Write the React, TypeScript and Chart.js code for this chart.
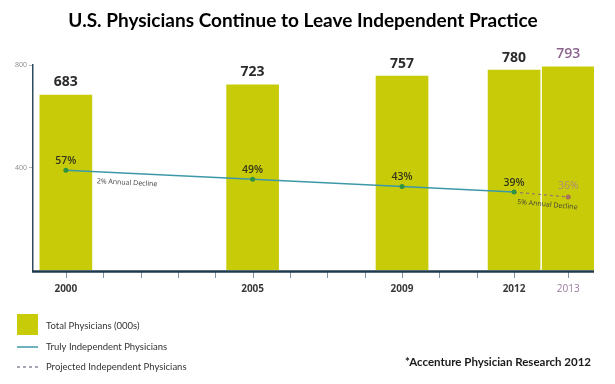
import React, { useEffect, useRef } from "react";
import { Chart, LinearScale, registerables } from "chart.js";

// ---------- data ----------
const barYears = [2000, 2005, 2009, 2012, 2013];
const totalPhysicians = [683, 723, 757, 780, 793];
const independentYears = [2000, 2005, 2009, 2012];
const independentPhysicians = [389, 354, 326, 304];
const independentShare = ["57%", "49%", "43%", "39%"];
const projectedYears = [2012, 2013];
const projectedPhysicians = [304, 285];
const projectedShare = ["", "36%"];
const axisYears = [2000, 2001, 2002, 2003, 2004, 2005, 2006, 2007, 2008, 2009, 2010, 2011, 2012, 2013];
const labeledYears = [2000, 2005, 2009, 2012, 2013];
const yTickValues = [400, 800];
const declineNotes = ["2% Annual Decline", "5% Annual Decline"];
const lastActualYear = 2012;
const seriesLabels = ["Total Physicians (000s)", "Truly Independent Physicians", "Projected Independent Physicians"];
const TITLE = "U.S. Physicians Continue to Leave Independent Practice";
const SOURCE = "*Accenture Physician Research 2012";

// ---------- styles ----------
const BAR_COLOR = "#c8cc08";
const LINE_COLOR = "#3c98a8";
const POINT_COLOR = "#2e9444";
const PROJ_LINE_COLOR = "#8d7a6e";
const PROJ_POINT_COLOR = "#a5705c";
const PROJ_TEXT = "#9a7a9c";
const AXIS_COLOR = "#1f3a4d";
const TICK_MARK_COLOR = "#8494a3";
const GAP_STRETCH = 1.45; // the projected year sits right next to the last actual bar

class ProjectionYearScale extends LinearScale {
  static id = "projectionYear";
  static defaults = LinearScale.defaults;
  warp(v: number) {
    return v > lastActualYear ? lastActualYear + (v - lastActualYear) * GAP_STRETCH : v;
  }
  getPixelForValue(value: number) {
    return super.getPixelForValue(this.warp(value));
  }
  getValueForPixel(pixel: number) {
    const w = super.getValueForPixel(pixel) as number;
    return w > lastActualYear ? lastActualYear + (w - lastActualYear) / GAP_STRETCH : w;
  }
}

Chart.register(...registerables, ProjectionYearScale);

const decor = {
  id: "decor",
  afterDatasetsDraw(chart: any) {
    const { ctx, chartArea } = chart;
    const xs = chart.scales.x;
    ctx.save();
    // year tick marks
    ctx.strokeStyle = TICK_MARK_COLOR;
    ctx.lineWidth = 1;
    xs.ticks.forEach((t: any) => {
      const px = Math.round(xs.getPixelForValue(t.value)) + 0.5;
      ctx.beginPath();
      ctx.moveTo(px, chartArea.bottom + 2);
      ctx.lineTo(px, chartArea.bottom + 8);
      ctx.stroke();
    });
    // x axis line over bar bottoms
    ctx.strokeStyle = AXIS_COLOR;
    ctx.lineWidth = 2.5;
    ctx.beginPath();
    ctx.moveTo(chartArea.left - 1, chartArea.bottom + 1.5);
    ctx.lineTo(chartArea.right, chartArea.bottom + 1.5);
    ctx.stroke();

    // bar value labels
    const barMeta = chart.getDatasetMeta(0);
    ctx.textAlign = "center";
    ctx.textBaseline = "middle";
    barMeta.data.forEach((el: any, i: number) => {
      const proj = barYears[i] > lastActualYear;
      ctx.font = `${proj ? 600 : 700} 14px "Open Sans"`;
      ctx.fillStyle = proj ? "#8c638e" : "#2b2b2b";
      ctx.fillText(String(totalPhysicians[i]), el.x, el.y - 12.5);
    });

    // percentage labels
    const lineMeta = chart.getDatasetMeta(1);
    ctx.font = `600 10.5px "Open Sans"`;
    ctx.fillStyle = "#34361a";
    lineMeta.data.forEach((el: any, i: number) => {
      ctx.fillText(independentShare[i], el.x, el.y - 9.5);
    });
    const projMeta = chart.getDatasetMeta(2);
    ctx.font = `400 10.5px "Open Sans"`;
    ctx.fillStyle = "#b08a78";
    projMeta.data.forEach((el: any, i: number) => {
      if (projectedShare[i]) ctx.fillText(projectedShare[i], el.x, el.y - 11);
    });

    // decline notes along the segments
    const note = (a: any, b: any, frac: number, text: string) => {
      const ang = Math.atan2(b.y - a.y, b.x - a.x);
      const cx = a.x + (b.x - a.x) * frac;
      const cy = a.y + (b.y - a.y) * frac;
      ctx.save();
      ctx.translate(cx, cy);
      ctx.rotate(ang);
      ctx.font = `400 7px "Open Sans"`;
      ctx.fillStyle = "#3d3d3d";
      ctx.fillText(text, 0, 9.5);
      ctx.restore();
    };
    note(lineMeta.data[0], lineMeta.data[1], 0.33, declineNotes[0]);
    note(projMeta.data[0], projMeta.data[1], 0.63, declineNotes[1]);
    ctx.restore();
  },
  afterDraw(chart: any) {
    const { ctx } = chart;
    ctx.save();
    // title
    ctx.textAlign = "center";
    ctx.textBaseline = "middle";
    ctx.fillStyle = "#000";
    ctx.font = `700 19px Lato`;
    ctx.fillText(TITLE, 303, 21);

    // legend
    ctx.textAlign = "left";
    ctx.fillStyle = BAR_COLOR;
    ctx.fillRect(17, 314, 21, 21);
    ctx.strokeStyle = LINE_COLOR;
    ctx.lineWidth = 1.5;
    ctx.beginPath();
    ctx.moveTo(17, 347);
    ctx.lineTo(38, 347);
    ctx.stroke();
    ctx.strokeStyle = "#8a8a9a";
    ctx.setLineDash([3, 3]);
    ctx.beginPath();
    ctx.moveTo(17, 367);
    ctx.lineTo(38, 367);
    ctx.stroke();
    ctx.setLineDash([]);
    ctx.font = `400 9.5px Lato`;
    ctx.fillStyle = "#333333";
    ctx.fillText(seriesLabels[0], 46, 326);
    ctx.fillText(seriesLabels[1], 46, 347);
    ctx.fillText(seriesLabels[2], 46, 367);

    // source
    ctx.textAlign = "center";
    ctx.font = `700 11.5px Lato`;
    ctx.fillStyle = "#1a1a1a";
    ctx.fillText(SOURCE, 498, 362);
    ctx.restore();
  },
};

export default function App() {
  const ref = useRef<HTMLCanvasElement | null>(null);
  useEffect(() => {
    if (!ref.current) return;
    const chart = new Chart(ref.current, {
      type: "bar",
      data: {
        datasets: [
          {
            type: "bar",
            label: seriesLabels[0],
            data: barYears.map((x, i) => ({ x, y: totalPhysicians[i] })),
            backgroundColor: BAR_COLOR,
            barThickness: 52,
            order: 3,
          } as any,
          {
            type: "line",
            label: seriesLabels[1],
            data: independentYears.map((x, i) => ({ x, y: independentPhysicians[i] })),
            borderColor: LINE_COLOR,
            borderWidth: 1.5,
            pointRadius: 2.5,
            pointBorderWidth: 0,
            pointBackgroundColor: POINT_COLOR,
            order: 1,
          },
          {
            type: "line",
            label: seriesLabels[2],
            data: projectedYears.map((x, i) => ({ x, y: projectedPhysicians[i] })),
            borderColor: PROJ_LINE_COLOR,
            borderWidth: 1.2,
            borderDash: [3, 3],
            pointRadius: (c: any) => (c.dataIndex === 0 ? 0 : 2.5),
            pointBorderWidth: 0,
            pointBackgroundColor: PROJ_POINT_COLOR,
            order: 2,
          },
        ],
      },
      options: {
        animation: false,
        responsive: false,
        layout: { padding: { top: 65, right: 21, bottom: 74, left: 0 } },
        plugins: { legend: { display: false }, tooltip: { enabled: false }, title: { display: false } },
        scales: {
          x: {
            type: "projectionYear" as any,
            min: 1999.12,
            max: 2014.14,
            offset: false,
            afterBuildTicks: (s: any) => {
              s.ticks = axisYears.map((v) => ({ value: v }));
            },
            afterFit: (s: any) => {
              s.height = 40;
            },
            grid: { display: false, drawOnChartArea: false, drawTicks: true, tickLength: 8 },
            border: { display: false },
            ticks: {
              autoSkip: false,
              maxRotation: 0,
              padding: 5,
              font: (c: any) => ({ family: "Open Sans", size: 10, weight: c.tick && c.tick.value > lastActualYear ? "400" : "700" }),
              color: (c: any) => (c.tick && c.tick.value > lastActualYear ? PROJ_TEXT : "#3a3a3a"),
              callback: (v: any) => (labeledYears.includes(Number(v)) ? String(v) : ""),
            },
          } as any,
          y: {
            min: 0,
            max: 800,
            afterBuildTicks: (s: any) => {
              s.ticks = yTickValues.map((v) => ({ value: v }));
            },
            afterFit: (s: any) => {
              s.width = 33;
            },
            grid: { drawOnChartArea: false, drawTicks: true, tickLength: 4, tickColor: "#b5b5b5" },
            border: { display: true, color: "#2f4b5f", width: 1.5 },
            ticks: { font: { family: "Open Sans", size: 7 }, color: "#8a8a8a", padding: 2 },
          },
        },
      },
      plugins: [decor],
    });
    return () => chart.destroy();
  }, []);
  return (
    <div style={{ position: "absolute", left: 0, top: 0, width: 615, height: 384, background: "#fff" }}>
      <canvas ref={ref} width={615} height={384} />
    </div>
  );
}
